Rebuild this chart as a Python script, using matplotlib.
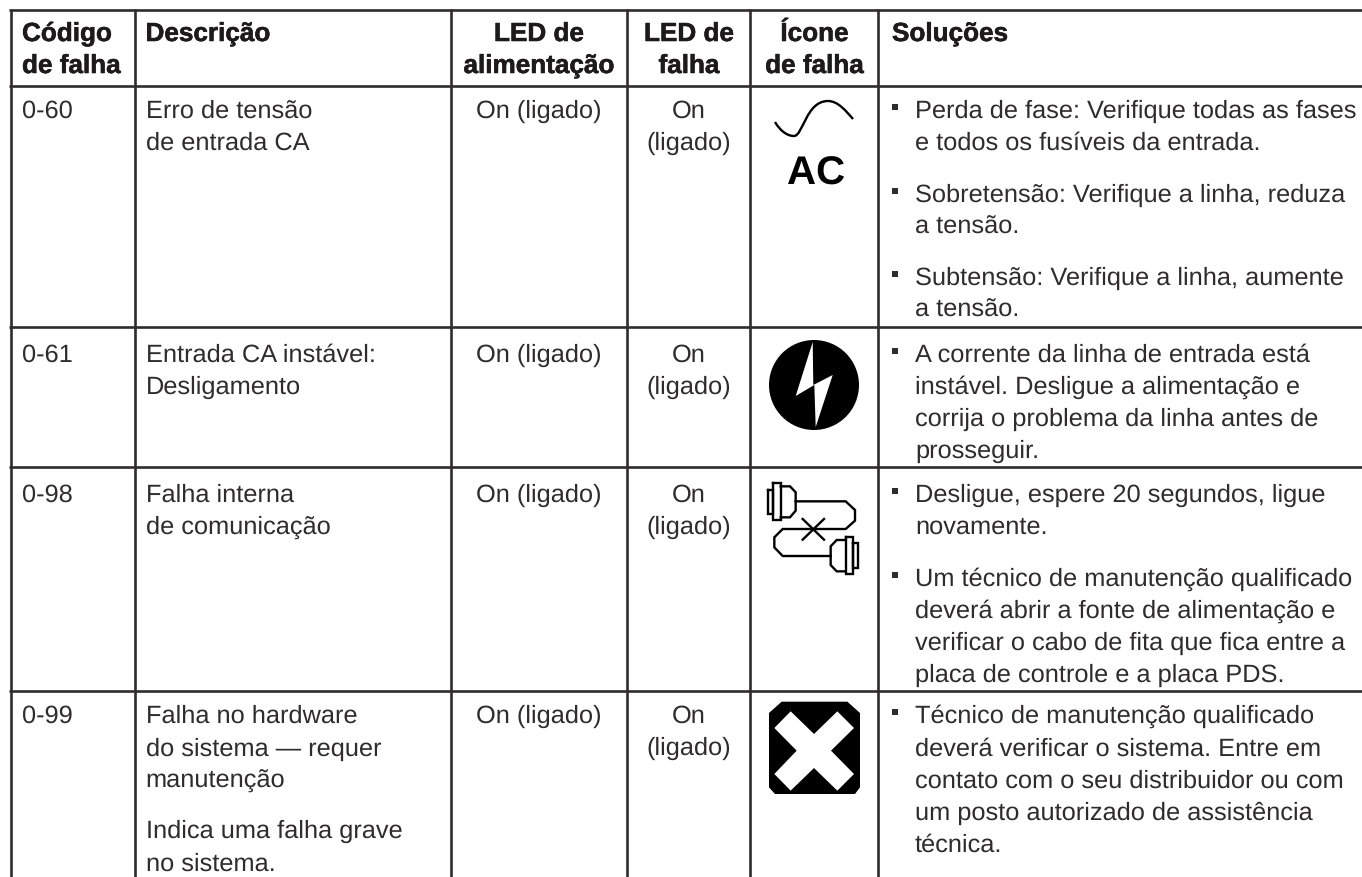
import matplotlib
matplotlib.use("Agg")
import matplotlib.patheffects as pe
import matplotlib.pyplot as plt
from matplotlib.patches import Circle, PathPatch, Polygon
from matplotlib.path import Path

plt.rcParams['font.family'] = ['Liberation Sans', 'DejaVu Sans']
plt.rcParams['text.hinting'] = 'none'

# table content
HEADERS = [
    ("Código\nde falha", 22, 'left'),
    ("Descrição", 145.5, 'left'),
    ("LED de\nalimentação", 539, 'center'),
    ("LED de\nfalha", 689, 'center'),
    ("Ícone\nde falha", 814.5, 'center'),
    ("Soluções", 892, 'left'),
]
CODES = ["0-60", "0-61", "0-98", "0-99"]
POWER_LED = ["On (ligado)"] * 4
FAULT_LED = ["On", "(ligado)"]

# text lines with their baselines, row by row
DESC_LINES = [
    [("Erro de tensão", 118), ("de entrada CA", 150)],
    [("Entrada CA instável:", 362), ("Desligamento", 394)],
    [("Falha interna", 502), ("de comunicação", 534)],
    [("Falha no hardware", 723), ("do sistema — requer", 755.5), ("manutenção", 788),
     ("Indica uma falha grave", 838), ("no sistema.", 871)],
]
SOL_LINES = [
    [("Perda de fase: Verifique todas as fases", 118, True), ("e todos os fusíveis da entrada.", 150, False),
     ("Sobretensão: Verifique a linha, reduza", 202, True), ("a tensão.", 234, False),
     ("Subtensão: Verifique a linha, aumente", 285, True), ("a tensão.", 317, False)],
    [("A corrente da linha de entrada está", 362, True), ("instável. Desligue a alimentação e", 394, False),
     ("corrija o problema da linha antes de", 426, False), ("prosseguir.", 458, False)],
    [("Desligue, espere 20 segundos, ligue", 502, True), ("novamente.", 534, False),
     ("Um técnico de manutenção qualificado", 586, True), ("deverá abrir a fonte de alimentação e", 618, False),
     ("verificar o cabo de fita que fica entre a", 650, False), ("placa de controle e a placa PDS.", 682, False)],
    [("Técnico de manutenção qualificado", 723, True), ("deverá verificar o sistema. Entre em", 755.5, False),
     ("contato com o seu distribuidor ou com", 787.5, False), ("um posto autorizado de assistência", 819.5, False),
     ("técnica.", 852, False)],
]
ROW_BASE = [118, 362, 502, 723]

H_RULES = [10.5, 87, 328.4, 468.4, 691.6]
V_RULES = [10.5, 134.5, 450.5, 627.3, 750.2, 878]

INK = '#2e2c2d'
FS = 18.25
HEAD_FS = 18.8


def zoom_pts(pts, x0=680, y0=440):
    return [(x0 + x / 3, y0 + y / 3) for x, y in pts]


def draw_connector_icon(ax):
    outlines = [
        [(263, 153), (280, 153), (280, 225), (263, 225), (263, 153)],
        [(280, 133), (302, 133), (302, 243), (280, 243), (280, 133)],
        [(302, 142), (330, 142), (347, 160), (347, 215), (330, 235), (302, 235)],
        [(347, 187), (497, 187), (525, 213), (525, 245), (497, 270), (308, 270),
         (283, 295), (283, 325), (308, 351), (452, 351)],
        [(497, 303), (470, 303), (452, 322), (452, 378), (470, 397), (497, 397)],
        [(497, 295), (518, 295), (518, 405), (497, 405), (497, 295)],
        [(518, 313), (535, 313), (535, 388), (518, 388), (518, 313)],
        [(368, 240), (432, 302)],
        [(432, 240), (368, 302)],
    ]
    for line in outlines:
        pts = zoom_pts(line)
        ax.plot([p[0] for p in pts], [p[1] for p in pts], color='black', lw=1.7,
                solid_joinstyle='miter', solid_capstyle='projecting')


def draw_ac_icon(ax):
    verts = [(775, 123), (781, 133), (788, 137), (794, 137), (803, 137), (806, 102),
             (828, 102), (838, 102), (846, 112), (853, 120)]
    codes = [Path.MOVETO] + [Path.CURVE4] * 9
    ax.add_patch(PathPatch(Path(verts, codes), fill=False, edgecolor='black', lw=1.7))
    ax.text(816, 185, "AC", fontsize=29, fontweight='bold', ha='center', va='baseline', color='black')


def draw_bolt_icon(ax):
    ax.add_patch(Circle((814, 386), 45, facecolor='black', edgecolor='none'))
    bolt = [(812.7, 343), (795.7, 397), (814.3, 386), (815.7, 428), (832.7, 376), (813.3, 386)]
    ax.add_patch(Polygon(bolt, closed=True, facecolor='white', edgecolor='none'))


def draw_cross_icon(ax):
    box = [(65, 38), (262, 38), (300, 72), (300, 295), (285, 315), (45, 315), (27, 295), (27, 72)]
    ax.add_patch(Polygon(zoom_pts(box, 760, 690), closed=True, facecolor='black', edgecolor='none'))
    cross = [(92, 67), (162, 135), (232, 67), (282, 117), (213, 185), (282, 255),
             (232, 305), (162, 237), (92, 305), (43, 255), (110, 185), (43, 117)]
    ax.add_patch(Polygon(zoom_pts(cross, 760, 690), closed=True, facecolor='white', edgecolor='none'))


def main():
    fig = plt.figure(figsize=(13.62, 8.78), dpi=100)
    ax = fig.add_axes([0, 0, 1, 1])
    ax.set_xlim(0, 1362)
    ax.set_ylim(878, 0)
    ax.axis('off')

    # Grid rules
    for y in H_RULES:
        ax.plot([9, 1362], [y, y], color=INK, lw=1.9, solid_capstyle='butt')
    for x in V_RULES:
        ax.plot([x, x], [9.5, 878], color=INK, lw=1.9, solid_capstyle='butt')

    # Header, a thin stroke thickens the bold to match the original weight
    heavy = [pe.withStroke(linewidth=0.4, foreground='#1c1a1b')]
    for label, x, align in HEADERS:
        for i, line in enumerate(label.split("\n")):
            ax.text(x, 42 + i * 32, line, fontsize=HEAD_FS, fontweight='bold', ha=align,
                    va='baseline', color='#1c1a1b', path_effects=heavy)

    # Body rows
    for i, base in enumerate(ROW_BASE):
        ax.text(22, base, CODES[i], fontsize=FS, va='baseline', color=INK)
        ax.text(539, base, POWER_LED[i], fontsize=FS, ha='center', va='baseline', color=INK)
        ax.text(689, base, FAULT_LED[0], fontsize=FS, ha='center', va='baseline', color=INK)
        ax.text(689, base + 32, FAULT_LED[1], fontsize=FS, ha='center', va='baseline', color=INK)
        for line, y in DESC_LINES[i]:
            ax.text(145.5, y, line, fontsize=FS, va='baseline', color=INK)
        for line, y, bullet in SOL_LINES[i]:
            ax.text(915, y, line, fontsize=FS, va='baseline', color=INK)
            if bullet:
                ax.plot([894.5], [y - 10], marker='s', ms=4.2, color=INK, mew=0)

    draw_ac_icon(ax)
    draw_bolt_icon(ax)
    draw_connector_icon(ax)
    draw_cross_icon(ax)

    fig.savefig("out.png", dpi=100)
    plt.close(fig)


if __name__ == "__main__":
    main()
